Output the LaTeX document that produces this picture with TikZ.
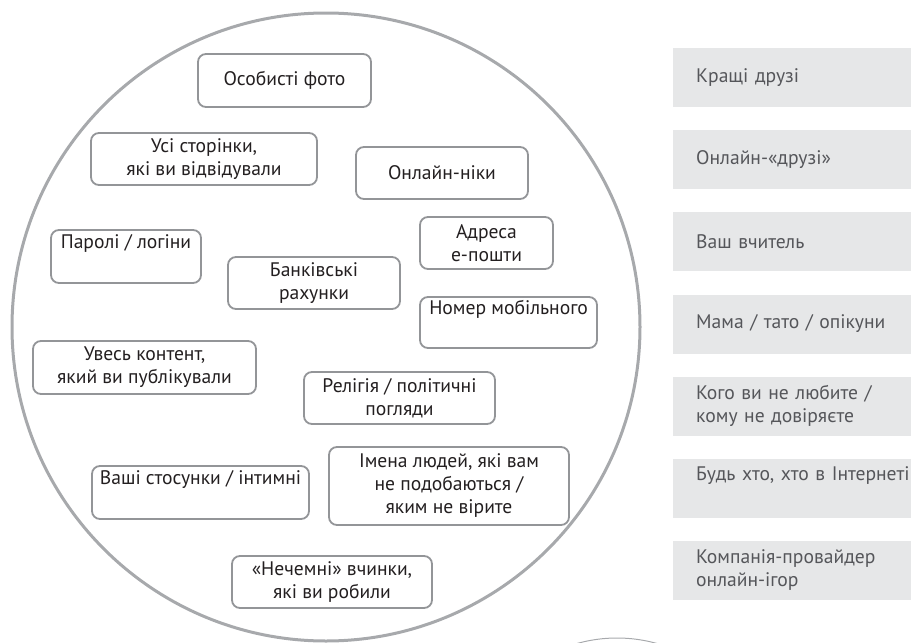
\documentclass[tikz,border=0pt]{standalone}
\usepackage{fontspec}
\setmainfont{PT Sans}
\usetikzlibrary{positioning}
\definecolor{ringgray}{HTML}{A7A9AC}
\definecolor{boxgray}{HTML}{939598}
\definecolor{panelgray}{HTML}{E6E7E8}
\definecolor{inkdark}{HTML}{231F20}
\definecolor{inkgray}{HTML}{55565A}
\tikzset{
    node distance = 22.7pt,
    every node/.style={font=\fontsize{19.6}{23}\selectfont},
    ring/.style={circle, draw=ringgray, line width=3pt, inner sep=0pt},
    item/.style={draw=boxgray, line width=1.8pt, rounded corners=8pt, align=center, text=inkdark, inner sep=0pt},
    who/.style={fill=panelgray, minimum width=260pt, minimum height=59pt, text width=214pt,
        align=left, text=inkgray, inner xsep=23pt, inner ysep=0pt}
}

\begin{document}
\begin{tikzpicture}[x=1pt, y=-1pt]
    \useasboundingbox (0,0) rectangle (911,643);
    % the big circle and the one that peeks in at the bottom
    \node[ring, minimum size=628pt] (info) at (326,327) {};
    \draw[ringgray, line width=1pt] (617,785) circle[radius=147];

    % what you share
    \node[item, minimum width=173pt, minimum height=53pt] (foto) at (284.5,80.5) {Особисті фото};
    \node[item, minimum width=226pt, minimum height=52pt] (pages) at (204,159) {Усі сторінки,\\ які ви відвідували};
    \node[item, minimum width=172pt, minimum height=52pt] (nicks) at (442,173) {Онлайн-ніки};
    \node[item, minimum width=150pt, minimum height=53pt] (logins) at (126,256.5) {Паролі / логіни\\ \strut};
    \node[item, minimum width=172pt, minimum height=52pt] (bank) at (314,283) {Банківські\\ рахунки};
    \node[item, minimum width=133pt, minimum height=52pt] (email) at (486.5,243) {Адреса\\ е-пошти};
    \node[item, minimum width=177pt, minimum height=51pt] (phone) at (508.5,322.5) {Номер мобільного\\ \strut};
    \node[item, minimum width=223pt, minimum height=53pt] (posts) at (144.5,367.5) {Увесь контент,\\ який ви публікували};
    \node[item, minimum width=191pt, minimum height=52pt] (views) at (399.5,398) {Релігія / політичні\\ погляди};
    \node[item, minimum width=217pt, minimum height=53pt] (love) at (200.5,492.5) {Ваші стосунки / інтимні\\ \strut};
    \node[item, minimum width=240pt, minimum height=78pt] (names) at (449,486) {Імена людей, які вам\\ не подобаються /\\ яким не вірите};
    \node[item, minimum width=200pt, minimum height=52pt] (deeds) at (332,582) {«Нечемні» вчинки,\\ які ви робили};

    % who can see it
    \node[who, anchor=north west] (r1) at (673,48) {Кращі друзі};
    \node[who, below=of r1] (r2) {Онлайн-«друзі»};
    \node[who, below=of r2] (r3) {Ваш вчитель};
    \node[who, below=of r3] (r4) {Мама / тато / опікуни};
    \node[who, below=of r4] (r5) {Кого ви не любите /\\ кому не довіряєте};
    \node[who, below=of r5] (r6) {Будь хто, хто в Інтернеті\\ \strut};
    \node[who, below=of r6] (r7) {Компанія-провайдер\\ онлайн-ігор};
\end{tikzpicture}
\end{document}
